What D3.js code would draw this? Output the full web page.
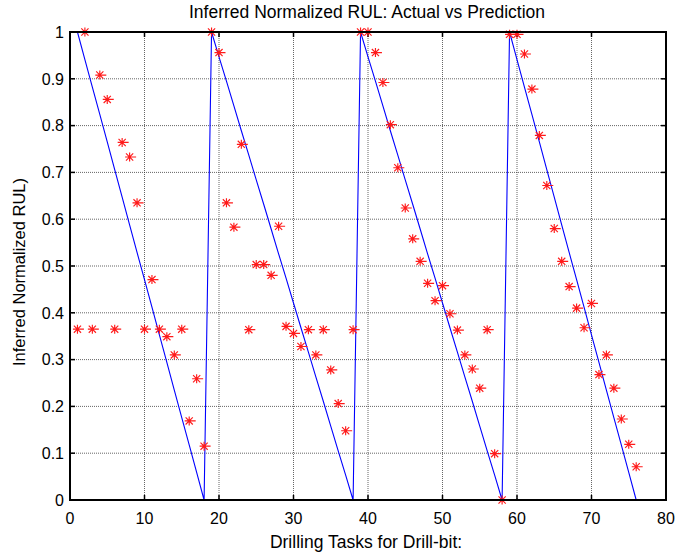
<!DOCTYPE html>
<html>
<head>
<meta charset="utf-8">
<script src="https://cdn.jsdelivr.net/npm/d3@7"></script>
<style>
  html, body { margin: 0; padding: 0; background: #fff; }
  svg { display: block; font-family: "Liberation Sans", Arial, sans-serif; }
</style>
</head>
<body>
<svg id="chart" width="676" height="557"></svg>
<script>
// ---- data ----
const tasks = [1,2,3,4,5,6,7,8,9,10,11,12,13,14,15,16,17,18,19,20,21,22,23,24,25,26,27,28,29,30,31,32,33,34,35,36,37,38,39,40,41,42,43,44,45,46,47,48,49,50,51,52,53,54,55,56,57,58,59,60,61,62,63,64,65,66,67,68,69,70,71,72,73,74,75,76];
const actualRUL = [
  1.000,0.941,0.882,0.824,0.765,0.706,0.647,0.588,0.529,0.471,0.412,0.353,0.294,0.235,0.176,0.118,0.059,0.000,
  1.000,0.947,0.895,0.842,0.789,0.737,0.684,0.632,0.579,0.526,0.474,0.421,0.368,0.316,0.263,0.211,0.158,0.105,0.053,0.000,
  1.000,0.947,0.895,0.842,0.789,0.737,0.684,0.632,0.579,0.526,0.474,0.421,0.368,0.316,0.263,0.211,0.158,0.105,0.053,0.000,
  1.000,0.941,0.882,0.824,0.765,0.706,0.647,0.588,0.529,0.471,0.412,0.353,0.294,0.235,0.176,0.118,0.059,0.000
];
const predictedRUL = [
  0.365,1.000,0.365,0.908,0.856,0.365,0.764,0.733,0.635,0.365,0.471,0.365,0.349,0.310,0.365,0.169,0.259,0.115,
  1.000,0.956,0.635,0.583,0.760,0.364,0.503,0.503,0.480,0.585,0.371,0.356,0.328,0.364,0.310,0.364,0.278,0.206,0.148,0.364,
  1.000,1.000,0.956,0.892,0.802,0.710,0.624,0.558,0.510,0.463,0.426,0.458,0.398,0.363,0.310,0.280,0.239,0.364,0.099,0.000,
  0.995,0.995,0.953,0.878,0.779,0.672,0.580,0.510,0.456,0.410,0.368,0.420,0.268,0.310,0.239,0.173,0.119,0.071
];
const xTicks = [0,10,20,30,40,50,60,70,80];
const yTicks = [0,0.1,0.2,0.3,0.4,0.5,0.6,0.7,0.8,0.9,1];
const yTickLabels = ["0","0.1","0.2","0.3","0.4","0.5","0.6","0.7","0.8","0.9","1"];
const titleText = "Inferred Normalized RUL: Actual vs Prediction";
const xLabelText = "Drilling Tasks for Drill-bit:";
const yLabelText = "Inferred Normalized RUL)";

// ---- layout ----
const svg = d3.select("#chart");
const pL = 70, pR = 666, pT = 32, pB = 500;
const x = d3.scaleLinear().domain([0, 80]).range([pL, pR]);
const y = d3.scaleLinear().domain([0, 1]).range([pB, pT]);

// grid
const grid = svg.append("g");
grid.selectAll("line.gx").data(xTicks.slice(1, -1)).join("line")
  .attr("x1", d => x(d)).attr("x2", d => x(d))
  .attr("y1", pT).attr("y2", pB)
  .attr("stroke", "#333").attr("stroke-width", 1).attr("stroke-dasharray", "1,1").attr("opacity", 0.75);
grid.selectAll("line.gy").data(yTicks.slice(1, -1)).join("line")
  .attr("y1", d => y(d)).attr("y2", d => y(d))
  .attr("x1", pL).attr("x2", pR)
  .attr("stroke", "#333").attr("stroke-width", 1).attr("stroke-dasharray", "1,1").attr("opacity", 0.75);

// ticks (inward, all four sides)
const tl = 5;
const tk = svg.append("g").attr("stroke", "#000").attr("stroke-width", 1.5);
xTicks.forEach(t => {
  tk.append("line").attr("x1", x(t)).attr("x2", x(t)).attr("y1", pB).attr("y2", pB - tl);
  tk.append("line").attr("x1", x(t)).attr("x2", x(t)).attr("y1", pT).attr("y2", pT + tl);
});
yTicks.forEach(t => {
  tk.append("line").attr("y1", y(t)).attr("y2", y(t)).attr("x1", pL).attr("x2", pL + tl);
  tk.append("line").attr("y1", y(t)).attr("y2", y(t)).attr("x1", pR).attr("x2", pR - tl);
});

// actual line
const line = d3.line().x((d, i) => x(tasks[i])).y(d => y(d));
svg.append("path").datum(actualRUL)
  .attr("d", line).attr("fill", "none").attr("stroke", "#0000ff").attr("stroke-width", 1.1);

// predicted asterisks
const rh = 5.5, rv = 4.5, rd = 3.6;
const starPath = `M${-rh + 1},0L${rh + 1},0M0,${-rv}L0,${rv}M${-rd},${-rd}L${rd},${rd}M${-rd},${rd}L${rd},${-rd}`;
svg.append("g").selectAll("path").data(predictedRUL).join("path")
  .attr("transform", (d, i) => `translate(${x(tasks[i])},${y(d)})`)
  .attr("d", starPath)
  .attr("fill", "none").attr("stroke", "#ff1a1a").attr("stroke-width", 1.15);

// box
svg.append("rect").attr("x", pL).attr("y", pT).attr("width", pR - pL).attr("height", pB - pT)
  .attr("fill", "none").attr("stroke", "#000").attr("stroke-width", 2);

// tick labels
svg.append("g").selectAll("text").data(xTicks).join("text")
  .attr("x", d => x(d)).attr("y", 523.5)
  .attr("text-anchor", "middle").attr("font-size", 16).attr("fill", "#000")
  .text(d => d);
svg.append("g").selectAll("text").data(yTicks).join("text")
  .attr("x", 64).attr("y", d => y(d)).attr("dy", "0.36em")
  .attr("text-anchor", "end").attr("font-size", 16).attr("fill", "#000")
  .text((d, i) => yTickLabels[i]);

// title and axis labels
svg.append("text").attr("x", 367).attr("y", 17.5)
  .attr("text-anchor", "middle").attr("font-size", 17.5).attr("fill", "#000").text(titleText);
svg.append("text").attr("x", 366).attr("y", 547.5)
  .attr("text-anchor", "middle").attr("font-size", 17.5).attr("fill", "#000").text(xLabelText);
svg.append("text").attr("transform", `translate(25,272) rotate(-90)`)
  .attr("text-anchor", "middle").attr("font-size", 16.5).attr("fill", "#000").text(yLabelText);
</script>
</body>
</html>
